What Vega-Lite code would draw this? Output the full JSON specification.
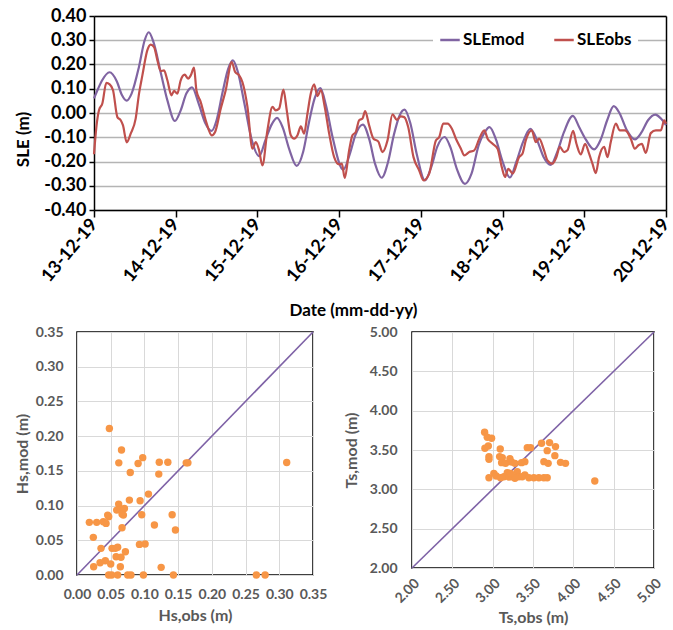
{
  "$schema": "https://vega.github.io/schema/vega-lite/v6.json",
  "background": "white",
  "padding": {"left": 13, "top": 7, "right": 5, "bottom": 0},
  "spacing": 5,
  "config": {
    "font": "Lato",
    "view": {"stroke": "black", "strokeWidth": 1.5}
  },
  "vconcat": [
    {
      "width": 589,
      "height": 194,
      "view": {"stroke": null},
      "data": {"values": [
        {"day":0.00,"sle":0.060,"series":"SLEmod"},{"day":0.05,"sle":0.100,"series":"SLEmod"},{"day":0.10,"sle":0.135,"series":"SLEmod"},{"day":0.19,"sle":0.168,"series":"SLEmod"},{"day":0.28,"sle":0.130,"series":"SLEmod"},{"day":0.34,"sle":0.075,"series":"SLEmod"},{"day":0.40,"sle":0.051,"series":"SLEmod"},{"day":0.46,"sle":0.080,"series":"SLEmod"},{"day":0.55,"sle":0.190,"series":"SLEmod"},{"day":0.62,"sle":0.300,"series":"SLEmod"},{"day":0.67,"sle":0.333,"series":"SLEmod"},{"day":0.73,"sle":0.290,"series":"SLEmod"},{"day":0.82,"sle":0.162,"series":"SLEmod"},{"day":0.90,"sle":0.050,"series":"SLEmod"},{"day":0.99,"sle":-0.033,"series":"SLEmod"},{"day":1.06,"sle":0.010,"series":"SLEmod"},{"day":1.13,"sle":0.080,"series":"SLEmod"},{"day":1.20,"sle":0.106,"series":"SLEmod"},{"day":1.28,"sle":0.040,"series":"SLEmod"},{"day":1.36,"sle":-0.040,"series":"SLEmod"},{"day":1.44,"sle":-0.074,"series":"SLEmod"},{"day":1.50,"sle":-0.030,"series":"SLEmod"},{"day":1.57,"sle":0.080,"series":"SLEmod"},{"day":1.64,"sle":0.180,"series":"SLEmod"},{"day":1.70,"sle":0.217,"series":"SLEmod"},{"day":1.76,"sle":0.170,"series":"SLEmod"},{"day":1.84,"sle":0.040,"series":"SLEmod"},{"day":1.93,"sle":-0.110,"series":"SLEmod"},{"day":2.02,"sle":-0.178,"series":"SLEmod"},{"day":2.10,"sle":-0.110,"series":"SLEmod"},{"day":2.17,"sle":-0.050,"series":"SLEmod"},{"day":2.24,"sle":-0.020,"series":"SLEmod"},{"day":2.31,"sle":-0.060,"series":"SLEmod"},{"day":2.39,"sle":-0.150,"series":"SLEmod"},{"day":2.48,"sle":-0.218,"series":"SLEmod"},{"day":2.56,"sle":-0.160,"series":"SLEmod"},{"day":2.63,"sle":-0.040,"series":"SLEmod"},{"day":2.70,"sle":0.060,"series":"SLEmod"},{"day":2.77,"sle":0.103,"series":"SLEmod"},{"day":2.84,"sle":0.030,"series":"SLEmod"},{"day":2.92,"sle":-0.100,"series":"SLEmod"},{"day":3.05,"sle":-0.234,"series":"SLEmod"},{"day":3.13,"sle":-0.170,"series":"SLEmod"},{"day":3.20,"sle":-0.090,"series":"SLEmod"},{"day":3.29,"sle":-0.048,"series":"SLEmod"},{"day":3.37,"sle":-0.110,"series":"SLEmod"},{"day":3.44,"sle":-0.210,"series":"SLEmod"},{"day":3.52,"sle":-0.267,"series":"SLEmod"},{"day":3.60,"sle":-0.200,"series":"SLEmod"},{"day":3.67,"sle":-0.090,"series":"SLEmod"},{"day":3.74,"sle":-0.010,"series":"SLEmod"},{"day":3.80,"sle":0.014,"series":"SLEmod"},{"day":3.87,"sle":-0.040,"series":"SLEmod"},{"day":3.95,"sle":-0.170,"series":"SLEmod"},{"day":4.05,"sle":-0.278,"series":"SLEmod"},{"day":4.13,"sle":-0.220,"series":"SLEmod"},{"day":4.20,"sle":-0.140,"series":"SLEmod"},{"day":4.29,"sle":-0.099,"series":"SLEmod"},{"day":4.36,"sle":-0.140,"series":"SLEmod"},{"day":4.44,"sle":-0.230,"series":"SLEmod"},{"day":4.54,"sle":-0.292,"series":"SLEmod"},{"day":4.62,"sle":-0.250,"series":"SLEmod"},{"day":4.71,"sle":-0.130,"series":"SLEmod"},{"day":4.78,"sle":-0.080,"series":"SLEmod"},{"day":4.84,"sle":-0.058,"series":"SLEmod"},{"day":4.92,"sle":-0.110,"series":"SLEmod"},{"day":5.00,"sle":-0.200,"series":"SLEmod"},{"day":5.09,"sle":-0.266,"series":"SLEmod"},{"day":5.17,"sle":-0.200,"series":"SLEmod"},{"day":5.25,"sle":-0.120,"series":"SLEmod"},{"day":5.34,"sle":-0.065,"series":"SLEmod"},{"day":5.42,"sle":-0.110,"series":"SLEmod"},{"day":5.50,"sle":-0.180,"series":"SLEmod"},{"day":5.59,"sle":-0.214,"series":"SLEmod"},{"day":5.67,"sle":-0.160,"series":"SLEmod"},{"day":5.75,"sle":-0.080,"series":"SLEmod"},{"day":5.86,"sle":-0.012,"series":"SLEmod"},{"day":5.94,"sle":-0.060,"series":"SLEmod"},{"day":6.02,"sle":-0.110,"series":"SLEmod"},{"day":6.12,"sle":-0.150,"series":"SLEmod"},{"day":6.20,"sle":-0.110,"series":"SLEmod"},{"day":6.28,"sle":-0.030,"series":"SLEmod"},{"day":6.36,"sle":0.028,"series":"SLEmod"},{"day":6.43,"sle":0.000,"series":"SLEmod"},{"day":6.52,"sle":-0.070,"series":"SLEmod"},{"day":6.62,"sle":-0.109,"series":"SLEmod"},{"day":6.70,"sle":-0.080,"series":"SLEmod"},{"day":6.78,"sle":-0.030,"series":"SLEmod"},{"day":6.87,"sle":-0.007,"series":"SLEmod"},{"day":6.93,"sle":-0.020,"series":"SLEmod"},{"day":7.00,"sle":-0.050,"series":"SLEmod"},
        {"day":0.000,"sle":-0.170,"series":"SLEobs"},{"day":0.029,"sle":-0.058,"series":"SLEobs"},{"day":0.061,"sle":0.011,"series":"SLEobs"},{"day":0.102,"sle":0.039,"series":"SLEobs"},{"day":0.151,"sle":0.124,"series":"SLEobs"},{"day":0.192,"sle":0.118,"series":"SLEobs"},{"day":0.233,"sle":0.094,"series":"SLEobs"},{"day":0.286,"sle":-0.017,"series":"SLEobs"},{"day":0.327,"sle":-0.030,"series":"SLEobs"},{"day":0.355,"sle":-0.051,"series":"SLEobs"},{"day":0.400,"sle":-0.121,"series":"SLEobs"},{"day":0.449,"sle":-0.085,"series":"SLEobs"},{"day":0.510,"sle":-0.023,"series":"SLEobs"},{"day":0.551,"sle":0.080,"series":"SLEobs"},{"day":0.592,"sle":0.155,"series":"SLEobs"},{"day":0.653,"sle":0.259,"series":"SLEobs"},{"day":0.694,"sle":0.282,"series":"SLEobs"},{"day":0.735,"sle":0.272,"series":"SLEobs"},{"day":0.776,"sle":0.217,"series":"SLEobs"},{"day":0.816,"sle":0.173,"series":"SLEobs"},{"day":0.857,"sle":0.176,"series":"SLEobs"},{"day":0.898,"sle":0.135,"series":"SLEobs"},{"day":0.947,"sle":0.073,"series":"SLEobs"},{"day":0.980,"sle":0.091,"series":"SLEobs"},{"day":1.020,"sle":0.080,"series":"SLEobs"},{"day":1.061,"sle":0.135,"series":"SLEobs"},{"day":1.110,"sle":0.158,"series":"SLEobs"},{"day":1.151,"sle":0.142,"series":"SLEobs"},{"day":1.184,"sle":0.155,"series":"SLEobs"},{"day":1.224,"sle":0.187,"series":"SLEobs"},{"day":1.253,"sle":0.094,"series":"SLEobs"},{"day":1.306,"sle":0.045,"series":"SLEobs"},{"day":1.367,"sle":-0.030,"series":"SLEobs"},{"day":1.441,"sle":-0.092,"series":"SLEobs"},{"day":1.482,"sle":-0.078,"series":"SLEobs"},{"day":1.551,"sle":0.018,"series":"SLEobs"},{"day":1.612,"sle":0.094,"series":"SLEobs"},{"day":1.686,"sle":0.210,"series":"SLEobs"},{"day":1.727,"sle":0.169,"series":"SLEobs"},{"day":1.776,"sle":0.155,"series":"SLEobs"},{"day":1.816,"sle":0.128,"series":"SLEobs"},{"day":1.878,"sle":0.025,"series":"SLEobs"},{"day":1.939,"sle":-0.147,"series":"SLEobs"},{"day":1.980,"sle":-0.120,"series":"SLEobs"},{"day":2.020,"sle":-0.154,"series":"SLEobs"},{"day":2.061,"sle":-0.216,"series":"SLEobs"},{"day":2.122,"sle":-0.072,"series":"SLEobs"},{"day":2.184,"sle":0.025,"series":"SLEobs"},{"day":2.224,"sle":0.011,"series":"SLEobs"},{"day":2.265,"sle":0.018,"series":"SLEobs"},{"day":2.318,"sle":0.096,"series":"SLEobs"},{"day":2.359,"sle":0.011,"series":"SLEobs"},{"day":2.408,"sle":-0.092,"series":"SLEobs"},{"day":2.449,"sle":-0.106,"series":"SLEobs"},{"day":2.490,"sle":-0.092,"series":"SLEobs"},{"day":2.531,"sle":-0.055,"series":"SLEobs"},{"day":2.571,"sle":-0.085,"series":"SLEobs"},{"day":2.612,"sle":-0.003,"series":"SLEobs"},{"day":2.653,"sle":0.080,"series":"SLEobs"},{"day":2.694,"sle":0.118,"series":"SLEobs"},{"day":2.735,"sle":0.070,"series":"SLEobs"},{"day":2.776,"sle":0.094,"series":"SLEobs"},{"day":2.824,"sle":0.025,"series":"SLEobs"},{"day":2.878,"sle":-0.085,"series":"SLEobs"},{"day":2.939,"sle":-0.182,"series":"SLEobs"},{"day":3.000,"sle":-0.212,"series":"SLEobs"},{"day":3.033,"sle":-0.209,"series":"SLEobs"},{"day":3.069,"sle":-0.268,"series":"SLEobs"},{"day":3.122,"sle":-0.154,"series":"SLEobs"},{"day":3.163,"sle":-0.092,"series":"SLEobs"},{"day":3.204,"sle":-0.078,"series":"SLEobs"},{"day":3.245,"sle":-0.030,"series":"SLEobs"},{"day":3.286,"sle":-0.023,"series":"SLEobs"},{"day":3.318,"sle":0.008,"series":"SLEobs"},{"day":3.367,"sle":-0.051,"series":"SLEobs"},{"day":3.420,"sle":-0.106,"series":"SLEobs"},{"day":3.478,"sle":-0.117,"series":"SLEobs"},{"day":3.531,"sle":-0.161,"series":"SLEobs"},{"day":3.592,"sle":-0.113,"series":"SLEobs"},{"day":3.653,"sle":-0.006,"series":"SLEobs"},{"day":3.706,"sle":-0.028,"series":"SLEobs"},{"day":3.755,"sle":-0.014,"series":"SLEobs"},{"day":3.796,"sle":-0.017,"series":"SLEobs"},{"day":3.845,"sle":-0.058,"series":"SLEobs"},{"day":3.910,"sle":-0.182,"series":"SLEobs"},{"day":3.980,"sle":-0.237,"series":"SLEobs"},{"day":4.033,"sle":-0.278,"series":"SLEobs"},{"day":4.102,"sle":-0.250,"series":"SLEobs"},{"day":4.184,"sle":-0.113,"series":"SLEobs"},{"day":4.225,"sle":-0.099,"series":"SLEobs"},{"day":4.274,"sle":-0.044,"series":"SLEobs"},{"day":4.327,"sle":-0.044,"series":"SLEobs"},{"day":4.380,"sle":-0.065,"series":"SLEobs"},{"day":4.429,"sle":-0.106,"series":"SLEobs"},{"day":4.490,"sle":-0.147,"series":"SLEobs"},{"day":4.531,"sle":-0.175,"series":"SLEobs"},{"day":4.592,"sle":-0.161,"series":"SLEobs"},{"day":4.653,"sle":-0.154,"series":"SLEobs"},{"day":4.715,"sle":-0.106,"series":"SLEobs"},{"day":4.776,"sle":-0.072,"series":"SLEobs"},{"day":4.817,"sle":-0.106,"series":"SLEobs"},{"day":4.878,"sle":-0.127,"series":"SLEobs"},{"day":4.939,"sle":-0.147,"series":"SLEobs"},{"day":4.990,"sle":-0.223,"series":"SLEobs"},{"day":5.030,"sle":-0.264,"series":"SLEobs"},{"day":5.070,"sle":-0.230,"series":"SLEobs"},{"day":5.125,"sle":-0.250,"series":"SLEobs"},{"day":5.202,"sle":-0.182,"series":"SLEobs"},{"day":5.243,"sle":-0.168,"series":"SLEobs"},{"day":5.284,"sle":-0.113,"series":"SLEobs"},{"day":5.357,"sle":-0.072,"series":"SLEobs"},{"day":5.406,"sle":-0.120,"series":"SLEobs"},{"day":5.447,"sle":-0.106,"series":"SLEobs"},{"day":5.508,"sle":-0.154,"series":"SLEobs"},{"day":5.549,"sle":-0.195,"series":"SLEobs"},{"day":5.610,"sle":-0.209,"series":"SLEobs"},{"day":5.659,"sle":-0.182,"series":"SLEobs"},{"day":5.700,"sle":-0.140,"series":"SLEobs"},{"day":5.753,"sle":-0.161,"series":"SLEobs"},{"day":5.794,"sle":-0.154,"series":"SLEobs"},{"day":5.863,"sle":-0.074,"series":"SLEobs"},{"day":5.904,"sle":-0.127,"series":"SLEobs"},{"day":5.957,"sle":-0.171,"series":"SLEobs"},{"day":6.010,"sle":-0.127,"series":"SLEobs"},{"day":6.059,"sle":-0.168,"series":"SLEobs"},{"day":6.100,"sle":-0.209,"series":"SLEobs"},{"day":6.141,"sle":-0.248,"series":"SLEobs"},{"day":6.181,"sle":-0.182,"series":"SLEobs"},{"day":6.243,"sle":-0.140,"series":"SLEobs"},{"day":6.284,"sle":-0.182,"series":"SLEobs"},{"day":6.324,"sle":-0.120,"series":"SLEobs"},{"day":6.386,"sle":-0.044,"series":"SLEobs"},{"day":6.435,"sle":-0.072,"series":"SLEobs"},{"day":6.500,"sle":-0.072,"series":"SLEobs"},{"day":6.569,"sle":-0.106,"series":"SLEobs"},{"day":6.618,"sle":-0.147,"series":"SLEobs"},{"day":6.663,"sle":-0.133,"series":"SLEobs"},{"day":6.704,"sle":-0.127,"series":"SLEobs"},{"day":6.753,"sle":-0.165,"series":"SLEobs"},{"day":6.814,"sle":-0.083,"series":"SLEobs"},{"day":6.876,"sle":-0.072,"series":"SLEobs"},{"day":6.937,"sle":-0.072,"series":"SLEobs"},{"day":6.978,"sle":-0.030,"series":"SLEobs"},{"day":7.000,"sle":-0.044,"series":"SLEobs"}
      ]},
      "layer": [
        {
          "mark": {"type": "line", "interpolate": "monotone", "strokeWidth": 2.2},
          "encoding": {
            "x": {"field": "day", "type": "quantitative",
              "scale": {"domain": [0, 7], "nice": false, "zero": false, "range": [17, 589]},
              "axis": {"orient": "bottom", "values": [0,1,2,3,4,5,6,7],
                "labelExpr": "timeFormat(datetime(2019, 11, 13 + datum.value), '%d-%m-%y')",
                "labelAngle": -50, "labelFontSize": 18, "labelFontWeight": "bold", "labelColor": "black",
                "labelPadding": 4, "labelFlush": false, "labelOverlap": false, "grid": false, "domainColor": "black", "domainWidth": 1.5,
                "tickColor": "black", "tickSize": 7, "tickWidth": 1.5,
                "title": "Date (mm-dd-yy)", "titleFontSize": 17, "titleFontWeight": "bold", "titleColor": "black",
                "titlePadding": 17, "titleX": 276}},
            "y": {"field": "sle", "type": "quantitative",
              "scale": {"domain": [-0.4, 0.4], "nice": false},
              "axis": {"orient": "left", "offset": -17, "values": [-0.4,-0.3,-0.2,-0.1,0,0.1,0.2,0.3,0.4],
                "labelExpr": "replace(format(datum.value, '.2f'), '\u2212', '-')",
                "labelFontSize": 18, "labelFontWeight": "bold", "labelColor": "black", "labelPadding": 3,
                "labelFlush": false, "labelOverlap": false,
                "grid": true, "gridColor": "#B4B4B4", "gridWidth": 1.3,
                "domainColor": "black", "domainWidth": 1.5, "tickColor": "black", "tickSize": 5, "tickWidth": 1.5,
                "title": "SLE (m)", "titleFontSize": 17, "titleFontWeight": "bold", "titleColor": "black",
                "titlePadding": 8, "titleX": -61.5, "titleY": 123}},
            "color": {"field": "series", "type": "nominal",
              "scale": {"domain": ["SLEmod", "SLEobs"], "range": ["#8064A2", "#C0504D"]},
              "legend": {"title": null, "orient": "none", "legendX": 356, "legendY": 7, "direction": "horizontal",
                "symbolType": "stroke", "symbolStrokeWidth": 2.5, "symbolSize": 380,
                "labelFontSize": 17, "labelFontWeight": "bold", "labelColor": "black", "labelOffset": 2,
                "columnPadding": 24, "fillColor": "white", "padding": 6}}
          }
        },
        {
          "data": {"values": []},
          "mark": {"type": "line"},
          "encoding": {
            "x": {"field": "day", "type": "quantitative",
              "axis": {"orient": "top", "labels": false, "ticks": false, "title": null, "grid": false,
                "domainColor": "black", "domainWidth": 1.5}},
            "y": {"field": "sle", "type": "quantitative",
              "axis": {"orient": "right", "labels": false, "ticks": false, "title": null, "grid": false,
                "domainColor": "black", "domainWidth": 1.5}}
          }
        }
      ],
      "resolve": {"axis": {"x": "independent", "y": "independent"}}
    },
    {
      "spacing": 14,
      "hconcat": [
        {
          "width": 236,
          "height": 243,
          "encoding": {
            "x": {"field": "obs", "type": "quantitative",
              "scale": {"domain": [0, 0.35], "nice": false},
              "axis": {"values": [0,0.05,0.1,0.15,0.2,0.25,0.3,0.35], "format": ".2f",
                "labelFontSize": 14, "labelFontWeight": "bold", "labelColor": "#595959", "labelPadding": 12,
                "labelFlush": false, "labelOverlap": false,
                "grid": true, "gridColor": "#D9D9D9", "domain": false, "ticks": false,
                "title": "Hs,obs (m)", "titleFontSize": 16, "titleFontWeight": "bold", "titleColor": "#595959", "titlePadding": 6}},
            "y": {"field": "mod", "type": "quantitative",
              "scale": {"domain": [0, 0.35], "nice": false},
              "axis": {"values": [0,0.05,0.1,0.15,0.2,0.25,0.3,0.35], "format": ".2f",
                "labelFontSize": 14, "labelFontWeight": "bold", "labelColor": "#595959", "labelPadding": 14,
                "labelFlush": false, "labelOverlap": false,
                "grid": true, "gridColor": "#D9D9D9", "domain": false, "ticks": false,
                "title": "Hs,mod (m)", "titleFontSize": 16, "titleFontWeight": "bold", "titleColor": "#595959", "titlePadding": 5}}
          },
          "layer": [
            {"data": {"values": [{"obs": 0, "mod": 0}, {"obs": 0.35, "mod": 0.35}]},
             "mark": {"type": "line", "color": "#7E62A6", "strokeWidth": 1.6}},
            {"data": {"values": [
              {"obs":0.048,"mod":0.211},{"obs":0.066,"mod":0.180},{"obs":0.0975,"mod":0.169},{"obs":0.062,"mod":0.1615},{"obs":0.0906,"mod":0.1607},{"obs":0.122,"mod":0.1625},{"obs":0.1347,"mod":0.1625},{"obs":0.162,"mod":0.1615},{"obs":0.1645,"mod":0.1615},{"obs":0.311,"mod":0.162},{"obs":0.079,"mod":0.1477},{"obs":0.1213,"mod":0.1453},{"obs":0.106,"mod":0.1165},{"obs":0.0777,"mod":0.1079},{"obs":0.0936,"mod":0.1069},{"obs":0.0618,"mod":0.1021},{"obs":0.0589,"mod":0.0935},{"obs":0.0638,"mod":0.0944},{"obs":0.0703,"mod":0.0959},{"obs":0.0668,"mod":0.0877},{"obs":0.0688,"mod":0.0863},{"obs":0.0455,"mod":0.0863},{"obs":0.047,"mod":0.0839},{"obs":0.096,"mod":0.0868},{"obs":0.1411,"mod":0.0868},{"obs":0.0183,"mod":0.0758},{"obs":0.0292,"mod":0.0758},{"obs":0.039,"mod":0.0768},{"obs":0.0431,"mod":0.0743},{"obs":0.1148,"mod":0.0719},{"obs":0.0668,"mod":0.0681},{"obs":0.146,"mod":0.0647},{"obs":0.0242,"mod":0.0542},{"obs":0.0356,"mod":0.0384},{"obs":0.052,"mod":0.0384},{"obs":0.0603,"mod":0.0399},{"obs":0.0569,"mod":0.0384},{"obs":0.0718,"mod":0.0336},{"obs":0.0926,"mod":0.0441},{"obs":0.101,"mod":0.0446},{"obs":0.058,"mod":0.0264},{"obs":0.0653,"mod":0.0255},{"obs":0.0342,"mod":0.0177},{"obs":0.042,"mod":0.0206},{"obs":0.050,"mod":0.0158},{"obs":0.0247,"mod":0.012},{"obs":0.0643,"mod":0.012},{"obs":0.1248,"mod":0.011},{"obs":0.047,"mod":0},{"obs":0.0514,"mod":0},{"obs":0.0603,"mod":0},{"obs":0.0752,"mod":0},{"obs":0.080,"mod":0},{"obs":0.0985,"mod":0},{"obs":0.143,"mod":0},{"obs":0.266,"mod":0},{"obs":0.279,"mod":0}
             ]},
             "mark": {"type": "circle", "size": 55, "color": "#F79646", "opacity": 1}}
          ]
        },
        {
          "width": 242,
          "height": 236,
          "encoding": {
            "x": {"field": "obs", "type": "quantitative",
              "scale": {"domain": [2, 5], "nice": false, "zero": false},
              "axis": {"values": [2,2.5,3,3.5,4,4.5,5], "format": ".2f", "labelAngle": -45,
                "labelFontSize": 14, "labelFontWeight": "bold", "labelColor": "#595959", "labelPadding": 8,
                "labelFlush": false, "labelOverlap": false,
                "grid": true, "gridColor": "#D9D9D9", "domain": false, "ticks": false,
                "title": "Ts,obs (m)", "titleFontSize": 16, "titleFontWeight": "bold", "titleColor": "#595959", "titlePadding": 4}},
            "y": {"field": "mod", "type": "quantitative",
              "scale": {"domain": [2, 5], "nice": false, "zero": false},
              "axis": {"values": [2,2.5,3,3.5,4,4.5,5], "format": ".2f",
                "labelFontSize": 14, "labelFontWeight": "bold", "labelColor": "#595959", "labelPadding": 15,
                "labelFlush": false, "labelOverlap": false,
                "grid": true, "gridColor": "#D9D9D9", "domain": false, "ticks": false,
                "title": "Ts,mod (m)", "titleFontSize": 16, "titleFontWeight": "bold", "titleColor": "#595959", "titlePadding": 10}}
          },
          "layer": [
            {"data": {"values": [{"obs": 2, "mod": 2}, {"obs": 5, "mod": 5}]},
             "mark": {"type": "line", "color": "#7E62A6", "strokeWidth": 1.6}},
            {"data": {"values": [
              {"obs":2.900,"mod":3.726},{"obs":2.933,"mod":3.662},{"obs":2.987,"mod":3.649},{"obs":2.946,"mod":3.551},{"obs":2.904,"mod":3.522},{"obs":2.954,"mod":3.416},{"obs":2.954,"mod":3.382},{"obs":3.094,"mod":3.513},{"obs":3.086,"mod":3.416},{"obs":3.119,"mod":3.403},{"obs":3.111,"mod":3.339},{"obs":3.160,"mod":3.330},{"obs":3.214,"mod":3.390},{"obs":3.234,"mod":3.347},{"obs":3.276,"mod":3.330},{"obs":3.358,"mod":3.339},{"obs":3.399,"mod":3.352},{"obs":3.429,"mod":3.530},{"obs":3.470,"mod":3.530},{"obs":3.606,"mod":3.585},{"obs":3.705,"mod":3.594},{"obs":3.779,"mod":3.543},{"obs":3.676,"mod":3.492},{"obs":3.771,"mod":3.428},{"obs":3.635,"mod":3.352},{"obs":3.688,"mod":3.330},{"obs":3.841,"mod":3.343},{"obs":3.903,"mod":3.330},{"obs":4.266,"mod":3.105},{"obs":2.954,"mod":3.148},{"obs":3.015,"mod":3.203},{"obs":3.044,"mod":3.169},{"obs":3.098,"mod":3.148},{"obs":3.139,"mod":3.161},{"obs":3.181,"mod":3.212},{"obs":3.202,"mod":3.156},{"obs":3.243,"mod":3.161},{"obs":3.305,"mod":3.224},{"obs":3.325,"mod":3.161},{"obs":3.399,"mod":3.182},{"obs":3.449,"mod":3.148},{"obs":3.511,"mod":3.148},{"obs":3.573,"mod":3.148},{"obs":3.635,"mod":3.148},{"obs":3.676,"mod":3.148},{"obs":3.366,"mod":3.161},{"obs":3.276,"mod":3.140},{"obs":3.222,"mod":3.203}
             ]},
             "mark": {"type": "circle", "size": 55, "color": "#F79646", "opacity": 1}}
          ]
        }
      ]
    }
  ]
}
